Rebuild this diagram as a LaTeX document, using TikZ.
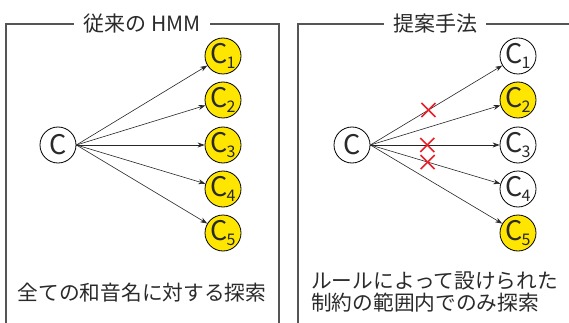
\documentclass[tikz,border=0pt]{standalone}
\usepackage{fontspec}
\setmainfont{Noto Sans CJK JP}
\usetikzlibrary{calc,arrows.meta}
\definecolor{boxgray}{HTML}{555555}
\definecolor{txtgray}{HTML}{2A2A2A}
\definecolor{cyellow}{HTML}{FFE600}
\definecolor{xred}{HTML}{E8202A}
\newcommand{\cname}[1]{{\fontsize{27}{27}\selectfont C}\ifx#1\relax\else\hspace{-1pt}\raisebox{-5pt}{\fontsize{16}{16}\selectfont #1}\fi}
\tikzset{
  chord/.style={circle,draw=black,line width=0.8pt,minimum size=36pt,inner sep=0pt,fill=white,text=txtgray},
  hit/.style={chord,fill=cyellow},
  frame/.style={draw=boxgray,line width=1.2pt},
  title/.style={fill=white,text=txtgray,font=\fontsize{21}{21}\selectfont,inner xsep=9pt,inner ysep=2pt},
  caption/.style={text=txtgray,font=\fontsize{20.7}{21.5}\selectfont,align=left,inner sep=0pt},
  link/.style={-{Stealth[length=7pt,width=5pt]},line width=0.6pt,black!85},
  cross/.style={draw=xred,line width=1.6pt}
}
\begin{document}
\begin{tikzpicture}[x=1pt,y=-1pt]
\useasboundingbox (0,0) rectangle (569,323);
% left frame
\draw[frame] (6,330) -- (6,24) -- (279,24) -- (279,330);
\node[title] (ltitle) at (142,24) {従来の HMM};
% right frame
\draw[frame] (298,330) -- (298,24) -- (575,24);
\node[title] (rtitle) at (435,24) {提案手法};
% left nodes
\node[chord] (lC) at (58,145) {\cname\relax};
\node[hit] (lC1) at (223,56) {\cname1};
\node[hit] (lC2) at (223,100) {\cname2};
\node[hit] (lC3) at (223,145) {\cname3};
\node[hit] (lC4) at (223,189) {\cname4};
\node[hit] (lC5) at (223,233) {\cname5};
\foreach \i in {1,...,5}{\draw[link] (lC.east) -- (lC\i);}
% right nodes
\node[chord] (rC) at (352,145) {\cname\relax};
\node[chord] (rC1) at (518,56) {\cname1};
\node[hit] (rC2) at (518,100) {\cname2};
\node[chord] (rC3) at (518,145) {\cname3};
\node[chord] (rC4) at (518,189) {\cname4};
\node[hit] (rC5) at (518,233) {\cname5};
\draw[link] (rC.east) -- coordinate[pos=0.44] (x1) (rC1);
\draw[link] (rC.east) -- (rC2);
\draw[link] (rC.east) -- coordinate[pos=0.44] (x3) (rC3);
\draw[link] (rC.east) -- coordinate[pos=0.44] (x4) (rC4);
\draw[link] (rC.east) -- (rC5);
\foreach \p in {x1,x3,x4}{
  \draw[cross] ($(\p)+(-7,-7)$) -- ($(\p)+(7,7)$);
  \draw[cross] ($(\p)+(-7,7)$) -- ($(\p)+(7,-7)$);
}
% captions
\node[caption] (lcap) at (142,293) {全ての和音名に対する探索};
\node[caption,anchor=west] (rcap) at (311,292) {ルールによって設けられた\\制約の範囲内でのみ探索};
\end{tikzpicture}
\end{document}
